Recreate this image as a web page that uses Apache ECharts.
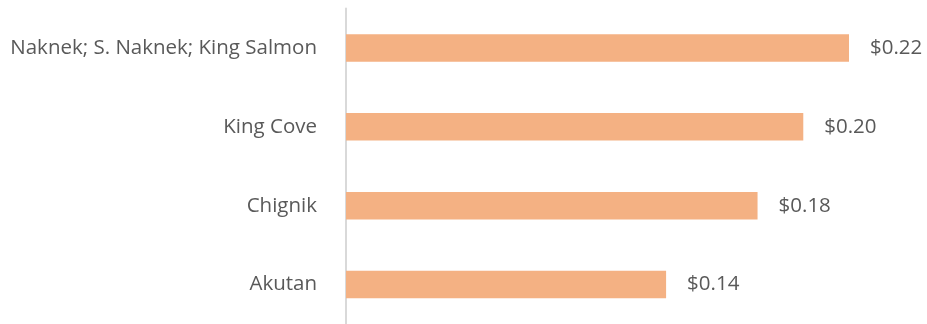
<!DOCTYPE html>
<html>
<head>
<meta charset="utf-8">
<script src="https://cdn.jsdelivr.net/npm/echarts@6/dist/echarts.min.js"></script>
<style>
  html, body { margin: 0; padding: 0; background: #ffffff; }
  #chart { width: 927px; height: 324px; }
</style>
</head>
<body>
<div id="chart"></div>
<script>
// Communities, listed bottom to top as the category axis draws them
const communities = ['Akutan', 'Chignik', 'King Cove', 'Naknek; S. Naknek; King Salmon'];
// Rate per community, in dollars
const rates = [0.14, 0.18, 0.20, 0.22];

const textColor = '#595959';
const fontFamily = '"Open Sans", "Liberation Sans", sans-serif';

const chart = echarts.init(document.getElementById('chart'), null, { renderer: 'canvas' });
chart.setOption({
  animation: false,
  grid: { left: 346, right: 9.4, top: 8.5, bottom: -0.5, containLabel: false },
  xAxis: {
    type: 'value',
    min: 0,
    max: 0.25,
    show: false
  },
  yAxis: {
    type: 'category',
    data: communities,
    axisLine: { show: true, lineStyle: { color: '#d9d9d9', width: 2 } },
    axisTick: { show: false },
    axisLabel: {
      color: textColor,
      fontSize: 20.5,
      fontFamily: fontFamily,
      margin: 29
    },
    splitLine: { show: false }
  },
  series: [{
    type: 'bar',
    data: rates,
    barWidth: '35%',
    itemStyle: { color: '#F4B183' },
    label: {
      show: true,
      position: 'right',
      distance: 21,
      color: textColor,
      fontSize: 20.5,
      fontFamily: fontFamily,
      formatter: p => '$' + p.value.toFixed(2)
    }
  }]
});
</script>
</body>
</html>
